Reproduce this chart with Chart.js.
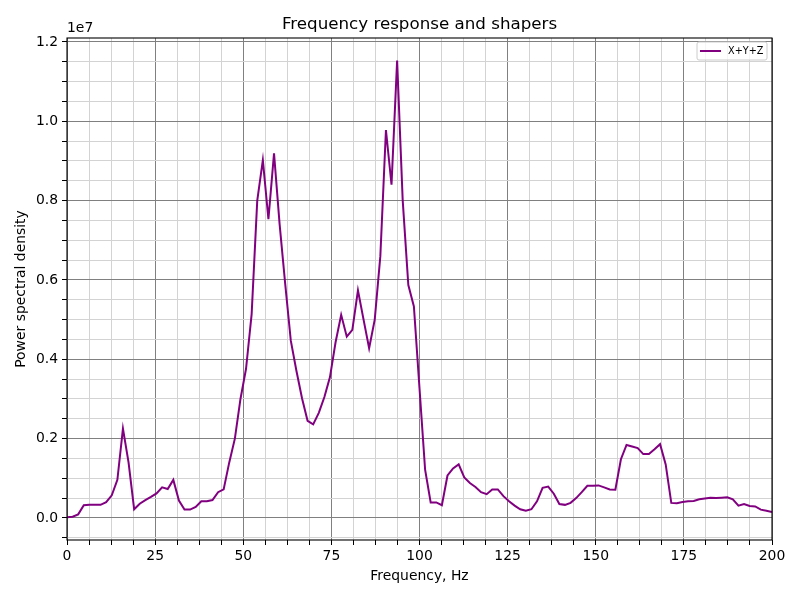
<!DOCTYPE html>
<html>
<head>
<meta charset="utf-8">
<script src="https://cdn.jsdelivr.net/npm/chart.js@4.4.0/dist/chart.umd.min.js"></script>
<style>
  body { margin: 0; background: #fff; }
</style>
</head>
<body>
<canvas id="psd_chart" width="800" height="600"></canvas>
<script>

// frequency bins, Hz
const freqs = [
	0, 1.59, 3.17, 4.76, 6.35, 7.94, 9.52, 11.11, 12.70, 14.29,
	15.87, 17.46, 19.05, 20.63, 22.22, 23.81, 25.40, 26.98, 28.57, 30.16,
	31.75, 33.33, 34.92, 36.51, 38.10, 39.68, 41.27, 42.86, 44.44, 46.03,
	47.62, 49.21, 50.79, 52.38, 53.97, 55.56, 57.14, 58.73, 60.32, 61.90,
	63.49, 65.08, 66.67, 68.25, 69.84, 71.43, 73.02, 74.60, 76.19, 77.78,
	79.37, 80.95, 82.54, 84.13, 85.71, 87.30, 88.89, 90.48, 92.06, 93.65,
	95.24, 96.83, 98.41, 100.00, 101.59, 103.17, 104.76, 106.35, 107.94, 109.52,
	111.11, 112.70, 114.29, 115.87, 117.46, 119.05, 120.63, 122.22, 123.81, 125.40,
	126.98, 128.57, 130.16, 131.75, 133.33, 134.92, 136.51, 138.10, 139.68, 141.27,
	142.86, 144.44, 146.03, 147.62, 149.21, 150.79, 152.38, 153.97, 155.56, 157.14,
	158.73, 160.32, 161.90, 163.49, 165.08, 166.67, 168.25, 169.84, 171.43, 173.02,
	174.60, 176.19, 177.78, 179.37, 180.95, 182.54, 184.13, 185.71, 187.30, 188.89,
	190.48, 192.06, 193.65, 195.24, 196.83, 198.41, 200.00
];

// X+Y+Z power spectral density, in millions (axis shows 1e7)
const psdXYZ = [
	0.02, 0.03, 0.09, 0.32, 0.33, 0.33, 0.33, 0.40, 0.57, 0.96,
	2.25, 1.40, 0.22, 0.36, 0.45, 0.53, 0.62, 0.77, 0.73, 0.96,
	0.44, 0.21, 0.21, 0.28, 0.42, 0.42, 0.45, 0.65, 0.72, 1.40,
	2.00, 3.00, 3.76, 5.14, 8.00, 9.02, 7.53, 9.19, 7.40, 5.90,
	4.47, 3.71, 3.02, 2.45, 2.36, 2.65, 3.05, 3.55, 4.43, 5.12,
	4.57, 4.74, 5.74, 5.00, 4.28, 5.00, 6.60, 9.78, 8.40, 11.53,
	8.00, 5.87, 5.33, 3.27, 1.22, 0.39, 0.39, 0.32, 1.07, 1.25,
	1.35, 1.02, 0.88, 0.78, 0.65, 0.60, 0.72, 0.72, 0.55, 0.42,
	0.31, 0.22, 0.18, 0.22, 0.42, 0.76, 0.79, 0.61, 0.35, 0.33,
	0.38, 0.50, 0.65, 0.81, 0.81, 0.82, 0.77, 0.72, 0.71, 1.48,
	1.84, 1.80, 1.76, 1.61, 1.61, 1.73, 1.86, 1.35, 0.38, 0.37,
	0.40, 0.42, 0.43, 0.47, 0.49, 0.51, 0.50, 0.51, 0.52, 0.47,
	0.31, 0.35, 0.30, 0.29, 0.21, 0.18, 0.15
];

const xTickLabels = [0, 25, 50, 75, 100, 125, 150, 175, 200];
const yTickValues = [0, 2, 4, 6, 8, 10, 12];
const yTickLabels = ['0.0', '0.2', '0.4', '0.6', '0.8', '1.0', '1.2'];
const chartTitle = 'Frequency response and shapers';

const FONT = "'DejaVu Sans', sans-serif";
Chart.defaults.font.family = FONT;
Chart.defaults.color = '#000';

function isMajorX(v) { return Math.abs(v / 25 - Math.round(v / 25)) < 1e-6; }
function isMajorY(v) { return Math.abs(v / 2 - Math.round(v / 2)) < 1e-6; }

// matplotlib-like frame, title over the axes, offset text and legend inside the axes
const axesExtras = {
	id: 'axesExtras',
	afterDraw(chart) {
		const ctx = chart.ctx;
		const a = chart.chartArea;
		ctx.save();
		ctx.strokeStyle = '#000';
		ctx.lineWidth = 1.1;
		ctx.strokeRect(a.left, a.top, a.right - a.left, a.bottom - a.top);

		ctx.fillStyle = '#000';
		ctx.font = '16.7px ' + FONT;
		ctx.textAlign = 'center';
		ctx.textBaseline = 'alphabetic';
		ctx.fillText(chartTitle, (a.left + a.right) / 2, 28.5);

		ctx.font = '13.9px ' + FONT;
		ctx.textAlign = 'left';
		ctx.textBaseline = 'bottom';
		ctx.fillText('1e7', a.left, a.top - 3);

		// legend box
		const ds = chart.data.datasets[0];
		const bx = a.right - 75, by = a.top + 4, bw = 70, bh = 18;
		ctx.beginPath();
		ctx.roundRect(bx, by, bw, bh, 2);
		ctx.fillStyle = 'rgba(255,255,255,0.8)';
		ctx.fill();
		ctx.strokeStyle = '#cccccc';
		ctx.lineWidth = 1;
		ctx.stroke();
		ctx.beginPath();
		ctx.moveTo(bx + 3, by + 9);
		ctx.lineTo(bx + 24, by + 9);
		ctx.strokeStyle = ds.borderColor;
		ctx.lineWidth = 2;
		ctx.stroke();
		ctx.fillStyle = '#000';
		ctx.font = '9.7px ' + FONT;
		ctx.textBaseline = 'middle';
		ctx.fillText(ds.label, bx + 31, by + 9.5);
		ctx.restore();
	}
};

const ctx = document.getElementById('psd_chart');
const psdChart = new Chart(ctx, {
	type: 'line',
	data: {
		datasets: [{
			label: 'X+Y+Z',
			data: freqs.map((f, i) => ({ x: f, y: psdXYZ[i] })),
			borderColor: '#800080',
			backgroundColor: '#800080',
			borderWidth: 2,
			pointRadius: 0,
			tension: 0,
			fill: false
		}]
	},
	options: {
		responsive: false,
		animation: false,
		layout: { padding: { top: 38, right: 28, bottom: 0, left: 0 } },
		plugins: {
			legend: { display: false },
			tooltip: { enabled: false },
			title: { display: false }
		},
		scales: {
			x: {
				type: 'linear',
				min: 0,
				max: 200,
				afterFit(scale) { scale.height = 60; },
				border: { display: false },
				grid: {
					color: c => isMajorX(c.tick.value) ? '#808080' : '#d3d3d3',
					tickColor: '#000',
					tickLength: 5,
					lineWidth: 1
				},
				ticks: {
					stepSize: 6.25,
					autoSkip: false,
					maxRotation: 0,
					padding: 3,
					color: '#000',
					font: { size: 13.9 },
					callback: v => xTickLabels.includes(v) ? String(v) : ''
				},
				title: {
					display: true,
					text: 'Frequency, Hz',
					color: '#000',
					font: { size: 13.9 },
					padding: { top: 15, bottom: 15 }
				}
			},
			y: {
				min: -0.556,
				max: 12.1,
				afterFit(scale) { scale.width = 67; },
				border: { display: false },
				grid: {
					color: c => isMajorY(c.tick.value) ? '#808080' : '#d3d3d3',
					tickColor: '#000',
					tickLength: 5,
					lineWidth: 1
				},
				ticks: {
					stepSize: 0.5,
					autoSkip: false,
					includeBounds: false,
					padding: 4,
					color: '#000',
					font: { size: 13.9 },
					callback: v => {
						const i = yTickValues.findIndex(t => Math.abs(t - v) < 1e-6);
						return i >= 0 ? yTickLabels[i] : '';
					}
				},
				title: {
					display: true,
					text: 'Power spectral density',
					color: '#000',
					font: { size: 13.9 },
					padding: { top: 13, bottom: 0 }
				}
			}
		}
	},
	plugins: [axesExtras]
});

</script>
</body>
</html>
